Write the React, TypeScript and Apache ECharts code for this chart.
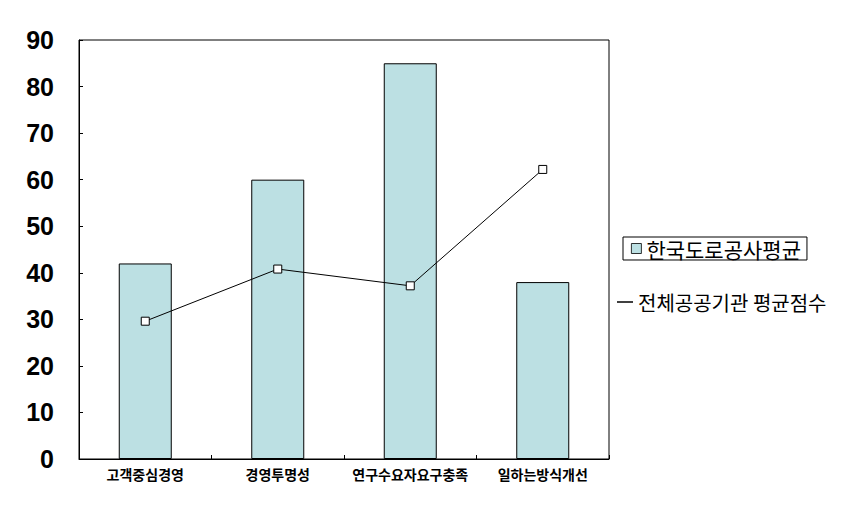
import React, { useEffect, useRef } from "react";
import * as echarts from "echarts";

const categories = ["고객중심경영", "경영투명성", "연구수요자요구충족", "일하는방식개선"];
const barName = "한국도로공사평균";
const barValues = [42, 60, 85, 38];
const lineName = "전체공공기관 평균점수";
const lineValues = [29.6, 40.8, 37.2, 62.2];
const yTicks = { min: 0, max: 90, interval: 10 };

export default function App() {
  const ref = useRef<HTMLDivElement>(null);
  useEffect(() => {
    if (!ref.current) return;
    const chart = echarts.init(ref.current, null, { renderer: "svg" });
    chart.setOption({
      animation: false,
      backgroundColor: "#ffffff",
      grid: {
        left: 79,
        right: 235,
        top: 40,
        bottom: 46,
        show: true,
        borderColor: "#000",
        borderWidth: 1,
        containLabel: false,
      },
      legend: [
        {
          data: [
            {
              name: barName,
              icon: "rect",
              itemStyle: { color: "#BCE0E3", borderColor: "#000", borderWidth: 0.8 },
            },
          ],
          left: 623,
          top: 237,
          orient: "vertical",
          borderColor: "#000",
          borderWidth: 1,
          padding: [1, 6, 1, 8],
          itemWidth: 10,
          itemHeight: 10,
          itemGap: 0,
          selectedMode: false,
          textStyle: {
            fontFamily: "Noto Sans CJK KR",
            fontSize: 21,
            color: "#000",
          },
        },
        {
          data: [
            {
              name: lineName,
              icon: "path://M0 0H16V1.5H0Z",
              itemStyle: { color: "#000", borderWidth: 0 },
            },
          ],
          left: 612,
          top: 287,
          itemWidth: 16,
          itemHeight: 2,
          selectedMode: false,
          textStyle: {
            fontFamily: "Noto Sans CJK KR",
            fontSize: 20,
            color: "#000",
          },
        },
      ],
      xAxis: {
        type: "category",
        data: categories,
        boundaryGap: true,
        axisLine: { lineStyle: { color: "#000", width: 1 } },
        axisTick: { show: true, inside: true, length: 4, lineStyle: { color: "#000" } },
        axisLabel: {
          color: "#000",
          fontFamily: "Noto Sans CJK KR",
          fontWeight: "bold",
          fontSize: 14,
          margin: 8,
          interval: 0,
        },
        splitLine: { show: false },
      },
      yAxis: {
        type: "value",
        min: yTicks.min,
        max: yTicks.max,
        interval: yTicks.interval,
        axisLine: { show: true, lineStyle: { color: "#000", width: 1 } },
        axisTick: { show: true, inside: true, length: 4, lineStyle: { color: "#000" } },
        axisLabel: {
          color: "#000",
          fontFamily: "Liberation Sans",
          fontWeight: "bold",
          fontSize: 25,
          margin: 25,
        },
        splitLine: { show: false },
      },
      series: [
        {
          name: barName,
          type: "bar",
          data: barValues,
          barWidth: "40%",
          itemStyle: { color: "#BCE0E3", borderColor: "#000", borderWidth: 1 },
        },
        {
          name: lineName,
          type: "line",
          data: lineValues,
          symbol: "rect",
          symbolSize: 8,
          lineStyle: { color: "#000", width: 1 },
          itemStyle: { color: "#fff", borderColor: "#000", borderWidth: 1 },
          z: 5,
        },
      ],
    });
    return () => chart.dispose();
  }, []);
  return <div ref={ref} style={{ width: 844, height: 505, position: "absolute", left: 0, top: 0 }} />;
}
